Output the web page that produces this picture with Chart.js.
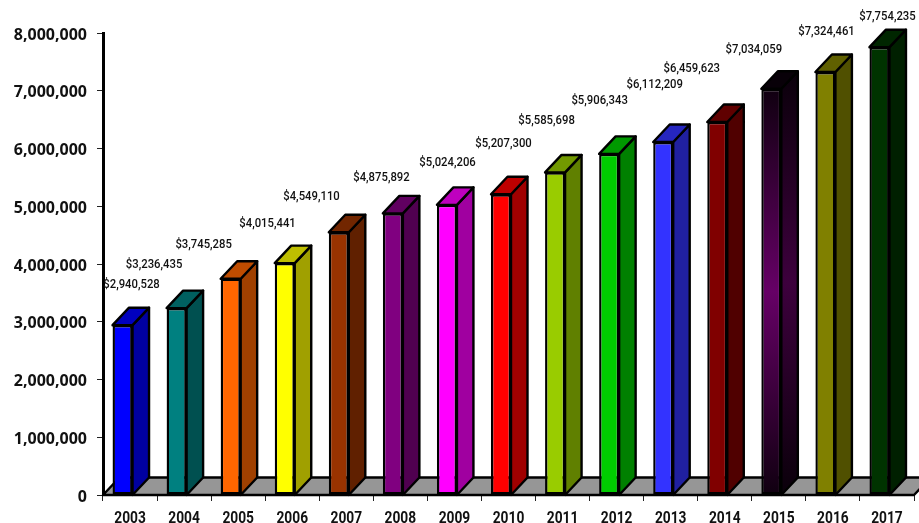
<!DOCTYPE html>
<html><head><meta charset="utf-8">
<style>html,body{margin:0;padding:0;background:#fff}#w{width:919px;height:523px}</style>
<script src="https://cdn.jsdelivr.net/npm/chart.js@4"></script></head>
<body><div id="w"><canvas id="c" width="919" height="523"></canvas></div>
<script>
const years=['2003','2004','2005','2006','2007','2008','2009','2010','2011','2012','2013','2014','2015','2016','2017'];
const values=[2940528,3236435,3745285,4015441,4549110,4875892,5024206,5207300,5585698,5906343,6112209,6459623,7034059,7324461,7754235];
const yTicks=[0,1000000,2000000,3000000,4000000,5000000,6000000,7000000,8000000];
const fronts=['#0000ff','#008080','#ff6600','#ffff00','#993300','#800080','#ff00ff','#ff0000','#99cc00','#00cc00','#3333ff','#800000','#660066','#808000','#003300'];
// value-label centre and baseline, relative to the top-centre of each bar front
const labelDx=[9.5,-22,-26.5,-16.7,-26.8,-10.9,1.1,3,-8,-9,-8,-25,-17,1.6,8.5];
const labelDy=[-37,-40,-31,-36,-32,-32,-39,-47,-48,-50,-54,-50,-36,-37,-27];
const DX=16.5, DY=17.5, SHIFT=7.5;
const fmt=v=>v.toLocaleString('en-US');
function shade(hex,f){const n=parseInt(hex.slice(1),16);
  return `rgb(${(n>>16&255)*f|0},${(n>>8&255)*f|0},${(n&255)*f|0})`;}
function vGrad(ctx,y0,y1,mid,edge){const g=ctx.createLinearGradient(0,y0,0,y1);
  g.addColorStop(0,edge);g.addColorStop(.5,mid);g.addColorStop(1,edge);return g;}
function poly(ctx,pts,fill){ctx.beginPath();pts.forEach((p,i)=>i?ctx.lineTo(p[0],p[1]):ctx.moveTo(p[0],p[1]));
  ctx.closePath();ctx.fillStyle=fill;ctx.fill();ctx.stroke();}
// draw text narrowed horizontally about its anchor
function narrowed(ctx,k,fn){
  ctx.fillText=function(t,x,y){
    this.save();this.translate(x,y);this.scale(k,1);
    CanvasRenderingContext2D.prototype.fillText.call(this,t,0,0);this.restore();};
  fn();delete ctx.fillText;
}
const threeD={id:'threeD',
  afterDatasetsUpdate(chart){chart.getDatasetMeta(0).data.forEach(b=>{b.x-=SHIFT;});
    const sx=chart.scales.x,sy=chart.scales.y;
    if(!sx._wrapped){const d=sx.drawLabels;sx._wrapped=true;
      sx.drawLabels=function(a){narrowed(chart.ctx,.86,()=>d.call(sx,a));};}
    if(!sy._wrapped){const d=sy.drawLabels;sy._wrapped=true;
      sy.drawLabels=function(a){const c=chart.ctx;c.save();c.translate(0,2);d.call(sy,a);c.restore();};}
  },
  beforeDatasetsDraw(chart){
    const ctx=chart.ctx,x=chart.scales.x,y=chart.scales.y,base=y.getPixelForValue(0);
    ctx.save();ctx.strokeStyle='#000';ctx.lineWidth=2.4;ctx.lineJoin='round';
    poly(ctx,[[x.left,base],[x.left+DX,base-DY],[x.right+DX,base-DY],[x.right,base]],'#969696');
    chart.getDatasetMeta(0).data.forEach((b,i)=>{
      const l=b.x-b.width/2,r=b.x+b.width/2,t=b.y;
      const c=fronts[i],grad=i===12;
      const side=grad?vGrad(ctx,t-DY,base,'#3d003d','#0a000a'):shade(c,.63);
      const top=grad?'#080008':shade(c,.75);
      poly(ctx,[[r,t],[r+DX,t-DY],[r+DX,base-DY],[r,base]],side);
      poly(ctx,[[l,t],[l+DX,t-DY],[r+DX,t-DY],[r,t]],top);
    });
    ctx.restore();
  },
  afterDatasetsDraw(chart){
    const ctx=chart.ctx;ctx.save();
    ctx.font='500 13px Roboto';ctx.fillStyle='#111';ctx.textAlign='center';ctx.textBaseline='alphabetic';
    narrowed(ctx,.87,()=>{
      chart.getDatasetMeta(0).data.forEach((b,i)=>{
        ctx.fillText('$'+fmt(values[i]),b.x-.5+labelDx[i],b.y+labelDy[i]);
      });
    });
    ctx.restore();
  }
};
new Chart(document.getElementById('c'),{
  type:'bar',
  data:{labels:years,datasets:[{data:values,
    backgroundColor:c=>{ if(c.dataIndex!==12) return fronts[c.dataIndex];
      const a=c.chart.chartArea; if(!a) return fronts[12];
      const b=c.chart.scales.y;
      return vGrad(c.chart.ctx,b.getPixelForValue(values[12]),b.getPixelForValue(0),fronts[12],'#100010');},
    borderColor:'#000',borderWidth:2.4,borderSkipped:false,
    categoryPercentage:1,barPercentage:.37}]},
  options:{responsive:false,animation:false,
    layout:{padding:{top:33,right:5,left:0,bottom:0}},
    plugins:{legend:{display:false},tooltip:{enabled:false}},
    scales:{
      x:{grid:{display:true,drawOnChartArea:false,color:'#222',tickLength:6,offset:true,lineWidth:1},
         border:{color:'#000',width:2},
         ticks:{color:'#111',padding:8,maxRotation:0,autoSkip:false,font:{family:'Roboto',size:16,weight:'bold'}},
         afterFit(s){s.height=28;}},
      y:{min:0,max:8000000,afterBuildTicks(s){s.ticks=yTicks.map(v=>({value:v}));},
         grid:{display:true,drawOnChartArea:false,color:'#222',tickLength:6,lineWidth:1},
         border:{color:'#000',width:3},
         ticks:{color:'#111',padding:10,callback:v=>fmt(v),font:{family:'"Open Sans"',size:16,weight:'bold'}},
         afterFit(s){s.width=103;}}
    }},
  plugins:[threeD]
});
</script></body></html>
